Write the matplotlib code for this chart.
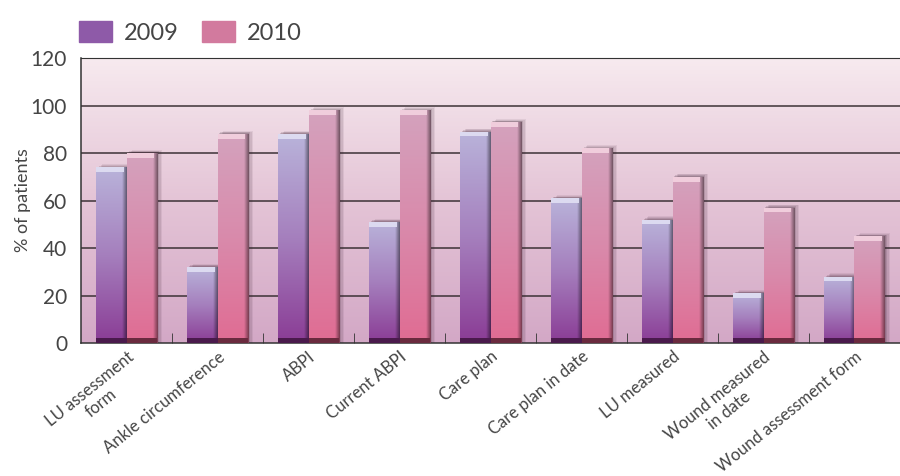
import numpy as np
import matplotlib.pyplot as plt
from matplotlib.patches import Rectangle
from matplotlib.colors import LinearSegmentedColormap

categories = ["LU assessment\nform", "Ankle circumference", "ABPI", "Current ABPI",
              "Care plan", "Care plan in date", "LU measured",
              "Wound measured\nin date", "Wound assessment form"]
vals_2009 = [74, 32, 88, 51, 89, 61, 52, 21, 28]
vals_2010 = [80, 88, 98, 98, 93, 82, 70, 57, 45]
yticks = [0, 20, 40, 60, 80, 100, 120]

plt.rcParams['font.family'] = ['Lato', 'DejaVu Sans']
txt = '#454545'

fig = plt.figure(figsize=(9, 4.76), dpi=100)
ax = fig.add_axes([0.09, 0.2794, 0.91, 0.5986])
x = np.arange(len(categories))
w = 0.33

ax.set_xlim(-0.5, len(categories) - 0.5)
ax.set_ylim(0, 120)

# background gradient
bg = LinearSegmentedColormap.from_list('bg', ['#d3a8c6', '#e4c4d6', '#f7eaef'])
ax.imshow(np.linspace(0, 1, 256).reshape(-1, 1), cmap=bg, origin='lower',
          extent=[-0.5, len(categories) - 0.5, 0, 120], aspect='auto', zorder=0)

for yv in yticks[1:]:
    ax.axhline(yv, color='#3c3236', lw=1.1, zorder=1)

cm09 = LinearSegmentedColormap.from_list('c09', ['#8a3c95', '#a57fbd', '#b9b3da'])
cm10 = LinearSegmentedColormap.from_list('c10', ['#e06c93', '#d98aab', '#d4a2bd'])


def grad_bars(xpos, vals, cmap, top_col, bot_col):
    bars = ax.bar(xpos, vals, w, color='none', edgecolor='none', zorder=3)
    for b in bars:
        bx, bw, bh = b.get_x(), b.get_width(), b.get_height()
        # soft shadow to the right and above
        for k, a in [(0.06, 0.08), (0.045, 0.10), (0.03, 0.14), (0.015, 0.18)]:
            ax.add_patch(Rectangle((bx + k, 0), bw, bh + k * 22, color='#3a1f30',
                                   alpha=a, lw=0, zorder=2))
        v = np.linspace(0, 1, 200).reshape(-1, 1)
        img = cmap(np.repeat(v, 40, axis=1))
        # darken right edge
        h = np.linspace(0, 1, 40)
        dark = np.where(h > 0.85, 1 - 0.45 * (h - 0.85) / 0.15, 1.0)
        img[..., :3] *= dark[None, :, None]
        im = ax.imshow(img, origin='lower', extent=[bx, bx + bw, 0, bh],
                       aspect='auto', zorder=3)
        im.set_clip_path(b)
        ax.add_patch(Rectangle((bx, bh - 2.0), bw * 0.92, 2.0, color=top_col, lw=0, zorder=4))
        ax.add_patch(Rectangle((bx, 0), bw, 2.0, color=bot_col, lw=0, zorder=4))


grad_bars(x - w / 2, vals_2009, cm09, '#dcdaf0', '#4a1a4c')
grad_bars(x + w / 2, vals_2010, cm10, '#f0cddc', '#6a2a3e')

ax.set_xlim(-0.5, len(categories) - 0.5)
ax.set_ylim(0, 120)

ax.set_yticks(yticks)
ax.set_yticklabels([str(t) for t in yticks], fontsize=15, color=txt)
ax.tick_params(axis='y', length=0, pad=10)
ax.set_xticks(x)
ax.set_xticklabels(categories, rotation=39, ha='right', rotation_mode='anchor',
                   fontsize=12, color=txt, multialignment='center')
ax.tick_params(axis='x', which='major', length=0, pad=4)
ax.set_xticks(x[:-1] + 0.5, minor=True)
ax.tick_params(axis='x', which='minor', direction='in', length=7, color='#333333')
ax.set_ylabel('% of patients', fontsize=13, color=txt, labelpad=0)

for s in ['left', 'bottom', 'top']:
    ax.spines[s].set_color('#333333')
    ax.spines[s].set_linewidth(1.1)
ax.spines['right'].set_visible(False)
ax.spines['top'].set_linewidth(0.8)

handles = [Rectangle((0, 0), 1, 1, color='#8e5aa8'), Rectangle((0, 0), 1, 1, color='#d27a9e')]
fig.legend(handles, ['2009', '2010'], loc='upper left', bbox_to_anchor=(0.064, 1.0),
           ncol=2, frameon=False, fontsize=17, handlelength=1.4, handleheight=0.95,
           columnspacing=1.0, handletextpad=0.5, labelcolor=txt)

fig.savefig('out.png', dpi=100)
